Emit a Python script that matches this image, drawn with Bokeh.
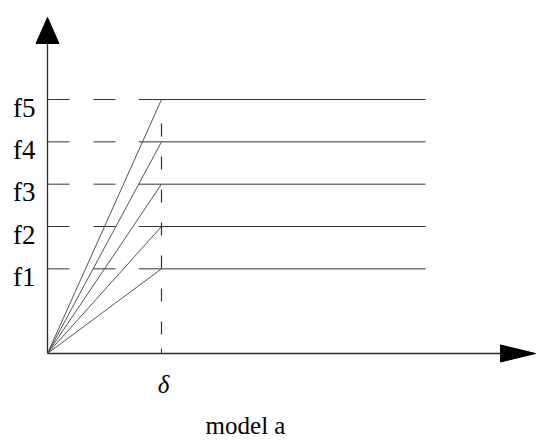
from bokeh.plotting import figure
from bokeh.models import Range1d
from bokeh.core.properties import value
from bokeh.embed import file_html
from bokeh.resources import INLINE

# ---- data ----
force_levels = [2, 3, 4, 5, 6]
force_labels = ["f1", "f2", "f3", "f4", "f5"]
delta = 1.0
plateau_end = 3.316
guide_end = 0.8
delta_label = "δ"
title_text = "model a"

# ---- scales (pixel geometry of the frame) ----
W, H = 542, 440
ox, oy = 47, 353          # origin pixel inside the frame
sx, sy = 114.0, 42.33     # pixels per unit
x0 = -ox / sx
x1 = (W - ox) / sx
y0 = -(H - oy) / sy
y1 = oy / sy

def dx(px):
    return px / sx

def dy(px):
    return px / sy

p = figure(width=W, height=H, output_backend="svg", toolbar_location=None,
           x_range=Range1d(x0, x1), y_range=Range1d(y0, y1),
           min_border=0, outline_line_color=None)
p.axis.visible = False
p.grid.visible = False
p.background_fill_color = "white"
p.border_fill_color = "white"

axis_col = "#2a2a2a"
line_col = "#333333"
diag_col = "#555555"
serif = value("Liberation Serif")

# y axis with arrow
y_tip = dy(353 - 17)
y_base = y_tip - dy(26)
p.line([0, 0], [0, y_base], line_color=axis_col, line_width=1.3)
p.patch([-dx(11.5), dx(11.5), 0], [y_base, y_base, y_tip], fill_color="black", line_color="black")

# x axis with arrow
x_tip = dx(535 - 47)
x_base = x_tip - dx(35)
p.line([0, x_base], [0, 0], line_color=axis_col, line_width=1.3)
p.patch([x_base, x_base, x_tip], [dy(8.5), -dy(8.5), 0], fill_color="black", line_color="black")

# force levels
for f in force_levels:
    p.line([0, guide_end], [f, f], line_color=line_col, line_width=1, line_dash="22 24")
    p.line([guide_end, plateau_end], [f, f], line_color=line_col, line_width=1)
    p.line([0, delta], [0, f], line_color=diag_col, line_width=1)

# vertical dashed line at delta
p.line([delta, delta], [max(force_levels) - dy(24), 0], line_color=line_col, line_width=1.2, line_dash="13 20")
p.line([delta, delta], [0, dy(5)], line_color=axis_col, line_width=1)

# labels
p.text(x=[0] * len(force_levels), y=force_levels, text=force_labels,
       x_offset=-12, y_offset=8, text_align="right", text_baseline="alphabetic",
       text_font=serif, text_font_size="27px", text_color="black")
p.text(x=[delta], y=[0], text=[delta_label], x_offset=2, y_offset=31,
       text_align="center", text_baseline="alphabetic", text_font=serif,
       text_font_style="italic", text_font_size="25px", text_color="black")
p.text(x=[dx(245 - 47)], y=[0], text=[title_text], x_offset=0, y_offset=72,
       text_align="center", text_baseline="alphabetic", text_font=serif,
       text_font_size="25px", text_color="black")

open("out.html", "w").write(file_html(p, INLINE))
